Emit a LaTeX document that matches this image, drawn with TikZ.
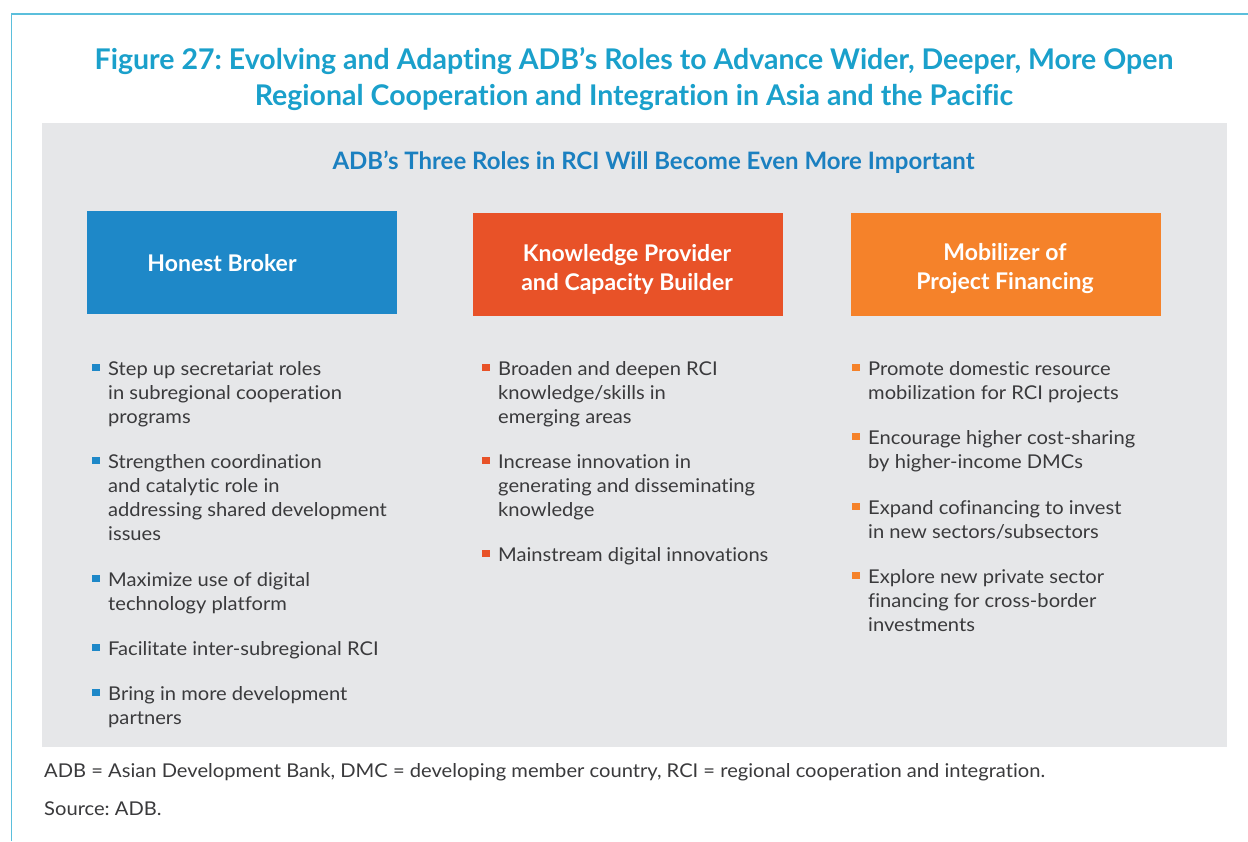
\documentclass[tikz,border=0pt]{standalone}
\usepackage{fontspec}
\setmainfont{Lato}[Ligatures=NoCommon]
\newfontfamily\widefont{Lato}[Ligatures=NoCommon, FakeStretch=1.06]
\frenchspacing
\definecolor{framec}{HTML}{5BBFDC}
\definecolor{titlec}{HTML}{1AA0CB}
\definecolor{subc}{HTML}{1B80C0}
\definecolor{panelc}{HTML}{E6E7E9}
\definecolor{bluec}{HTML}{1E88C8}
\definecolor{redc}{HTML}{E85228}
\definecolor{orangec}{HTML}{F5822A}
\definecolor{textc}{HTML}{3A3A3C}
\newcommand\bitem[5]{%
  \fill[#4] (#2-16,#3-11) rectangle (#2-8,#3-4);
  \node[bodytext] (#1) at (#2,#3-16.8) {\strut #5};
}
\begin{document}
\begin{tikzpicture}[x=1pt,y=-1pt,
  bodytext/.style={anchor=north west, inner sep=0pt, align=left, text=textc,
    font=\widefont\fontsize{19}{24}\selectfont\frenchspacing},
  roletext/.style={text=white, align=center, inner sep=0pt,
    font=\fontsize{23}{29}\selectfont\bfseries}]
\useasboundingbox (0,0) rectangle (1248,841);
\fill[white] (0,0) rectangle (1248,841);
\draw[framec, line width=1.6pt] (11.5,841) -- (11.5,14) -- (1249,14);
\node[text=titlec, align=center, inner sep=0pt, font=\fontsize{28.5}{36}\selectfont\bfseries\frenchspacing]
  (title) at (634,79.5) {Figure 27: Evolving and Adapting ADB’s Roles to Advance Wider, Deeper, More Open\\Regional Cooperation and Integration in Asia and the Pacific};
\fill[panelc] (42,123) rectangle (1227,747);
\node[text=subc, inner sep=0pt, font=\fontsize{24}{28}\selectfont\bfseries]
  (sub) at (653.5,162) {ADB’s Three Roles in RCI Will Become Even More Important};
% role boxes
\fill[bluec] (87,211) rectangle (397,314);
\node[roletext] (hb) at (222,263) {Honest Broker};
\fill[redc] (473,213) rectangle (783,316);
\node[roletext] (kp) at (627,269) {Knowledge Provider\\and Capacity Builder};
\fill[orangec] (851,213) rectangle (1161,316);
\node[roletext] (mp) at (1005,269) {Mobilizer of\\Project Financing};
% column 1
\bitem{a1}{108}{375}{bluec}{Step up secretariat roles\\in subregional cooperation\\programs}
\bitem{a2}{108}{468}{bluec}{Strengthen coordination\\and catalytic role in\\addressing shared development\\issues}
\bitem{a3}{108}{586}{bluec}{Maximize use of digital\\technology platform}
\bitem{a4}{108}{655}{bluec}{Facilitate inter-subregional RCI}
\bitem{a5}{108}{700}{bluec}{Bring in more development\\partners}
% column 2
\bitem{b1}{498}{375}{redc}{Broaden and deepen RCI\\knowledge/skills in\\emerging areas}
\bitem{b2}{498}{468}{redc}{Increase innovation in\\generating and disseminating\\knowledge}
\bitem{b3}{498}{561}{redc}{Mainstream digital innovations}
% column 3
\bitem{c1}{868}{375}{orangec}{Promote domestic resource\\mobilization for RCI projects}
\bitem{c2}{868}{444}{orangec}{Encourage higher cost-sharing\\by higher-income DMCs}
\bitem{c3}{868}{514}{orangec}{Expand cofinancing to invest\\in new sectors/subsectors}
\bitem{c4}{868}{583}{orangec}{Explore new private sector\\financing for cross-border\\investments}
% notes
\node[anchor=base west, inner sep=0pt, text=textc, font=\widefont\fontsize{19}{24}\selectfont\frenchspacing]
  (note) at (44,777) {ADB = Asian Development Bank, DMC = developing member country, RCI = regional cooperation and integration.};
\node[anchor=base west, inner sep=0pt, text=textc, font=\widefont\fontsize{19}{24}\selectfont\frenchspacing]
  (src) at (44,815) {Source: ADB.};
\end{tikzpicture}
\end{document}
